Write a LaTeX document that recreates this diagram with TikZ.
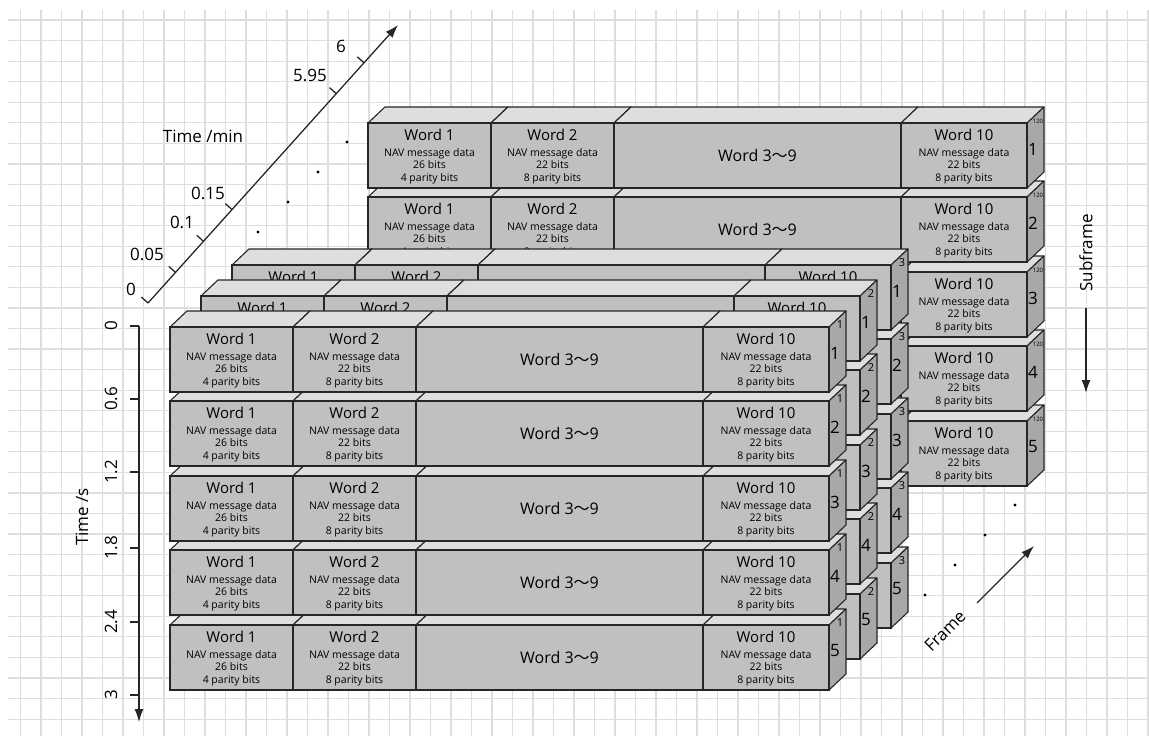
\documentclass[tikz,border=0pt]{standalone}
\usepackage{fontspec}
\setmainfont{Open Sans}
\newfontfamily\cjkfont{Noto Sans CJK SC}
\usetikzlibrary{arrows.meta, calc}

\definecolor{topgray}{RGB}{222,222,222}
\definecolor{frontgray}{RGB}{192,192,192}
\definecolor{sidegray}{RGB}{168,168,168}
\definecolor{edgegray}{RGB}{38,38,38}

% one word of a subframe: name, x, width, title, three small lines,
% text shown (0 none, 1 title, 2 all)
\newcommand{\wordbox}[8]{%
  \draw [topface] (#2,0) -- ++(17,-16) -- ++(#3,0) -- ++(-17,16) -- cycle;
  \draw [sideface] (#2+#3,0) -- ++(17,-16) -- ++(0,65) -- ++(-17,16) -- cycle;
  \draw [frontface] (#2,0) rectangle ++(#3,65);
  \ifcase#8\relax
  \or
    \node [titletext] (#1) at (#2+0.5*#3,17.5) {#4};
  \or
    \node [titletext] (#1) at (#2+0.5*#3,17.5) {#4};
    \node [smalltext] (#1-a) at (#2+0.5*#3,33.5) {#5};
    \node [smalltext] (#1-b) at (#2+0.5*#3,45.5) {#6};
    \node [smalltext] (#1-c) at (#2+0.5*#3,58.5) {#7};
  \fi
}

% words 3 to 9 in one box: name, x, width, title, text shown (0/1)
\newcommand{\bigbox}[5]{%
  \draw [topface] (#2,0) -- ++(17,-16) -- ++(#3,0) -- ++(-17,16) -- cycle;
  \draw [frontface] (#2,0) rectangle ++(#3,65);
  \ifcase#5\relax
  \or
    \node [bigtext] (#1) at (#2+0.5*#3,32.5) {#4};
  \fi
}

% one subframe: name, x, y, frame number, subframe number,
% text shown for words 1 and 2, words 3-9, word 10
\newcommand{\subframerow}[8]{%
  \begin{scope}[shift={(#2,#3)}]
    \wordbox{#1-w1}{0}{123}{Word 1}{NAV message data}{26 bits}{4 parity bits}{#6}
    \wordbox{#1-w2}{123}{123}{Word 2}{NAV message data}{22 bits}{8 parity bits}{#6}
    \bigbox{#1-w39}{246}{287}{Word 3{\cjkfont ～}9}{#7}
    \wordbox{#1-w10}{533}{126}{Word 10}{NAV message data}{22 bits}{8 parity bits}{#8}
    \node [framenum] (#1-fr) at (670,-2) {#4};
    \node [subnum] (#1-sf) at (665,26) {#5};
  \end{scope}
}

\begin{document}
\begin{tikzpicture}[x=1pt, y=-1pt,
    gridline/.style={draw=black!13, line width=1.2pt},
    topface/.style={fill=topgray, draw=edgegray, line width=1.1pt, line join=round},
    sideface/.style={fill=sidegray, draw=edgegray, line width=1.1pt, line join=round},
    frontface/.style={fill=frontgray, draw=edgegray, line width=1.1pt},
    titletext/.style={anchor=base, inner sep=0, font=\fontsize{15}{18}\selectfont},
    smalltext/.style={anchor=base, inner sep=0, font=\fontsize{10.5}{12}\selectfont},
    bigtext/.style={inner sep=0, font=\fontsize{16}{18}\selectfont},
    framenum/.style={inner sep=0, font=\fontsize{11}{12}\selectfont},
    subnum/.style={inner sep=0, font=\fontsize{17}{18}\selectfont},
    axislabel/.style={inner sep=0, font=\fontsize{17}{20}\selectfont},
    seqdot/.style={fill=black}]

    \useasboundingbox (0,0) rectangle (1149,736);
    \fill [white] (0,0) rectangle (1149,736);

    % background grid
    \foreach \k in {1,...,56} \draw [gridline] (20.5*\k,10) -- (20.5*\k,736);
    \foreach \k in {1,...,35} \draw [gridline] (8,20.56*\k-0.5) -- (1149,20.56*\k-0.5);

    %%%%%%%%%%%%%%%%%%%%%%%%%%%%%%%%%%%%%%%%%%%%%%%%%%%%%%%%%%%%%%%%%%%%%

    % last frame
    \subframerow{fN-s5}{368}{421}{\fontsize{6}{6}\selectfont 120}{5}{0}{0}{2}
    \subframerow{fN-s4}{368}{346}{\fontsize{6}{6}\selectfont 120}{4}{0}{0}{2}
    \subframerow{fN-s3}{368}{272}{\fontsize{6}{6}\selectfont 120}{3}{0}{0}{2}
    \subframerow{fN-s2}{368}{197}{\fontsize{6}{6}\selectfont 120}{2}{2}{1}{2}
    \subframerow{fN-s1}{368}{123}{\fontsize{6}{6}\selectfont 120}{1}{2}{1}{2}

    \fill [seqdot] (258,232) circle [radius=1.6pt];
    \fill [seqdot] (288,202) circle [radius=1.6pt];
    \fill [seqdot] (318,172) circle [radius=1.6pt];
    \fill [seqdot] (347,142) circle [radius=1.6pt];
    \fill [seqdot] (925,595) circle [radius=1.6pt];
    \fill [seqdot] (955,565) circle [radius=1.6pt];
    \fill [seqdot] (985,535) circle [radius=1.6pt];
    \fill [seqdot] (1015,505) circle [radius=1.6pt];

    % frame 3
    \subframerow{f3-s5}{232}{563}{3}{5}{0}{0}{0}
    \subframerow{f3-s4}{232}{488}{3}{4}{0}{0}{0}
    \subframerow{f3-s3}{232}{414}{3}{3}{0}{0}{0}
    \subframerow{f3-s2}{232}{339}{3}{2}{0}{0}{0}
    \subframerow{f3-s1}{232}{265}{3}{1}{1}{0}{1}

    % frame 2
    \subframerow{f2-s5}{201}{594}{2}{5}{0}{0}{0}
    \subframerow{f2-s4}{201}{519}{2}{4}{0}{0}{0}
    \subframerow{f2-s3}{201}{445}{2}{3}{0}{0}{0}
    \subframerow{f2-s2}{201}{370}{2}{2}{0}{0}{0}
    \subframerow{f2-s1}{201}{296}{2}{1}{1}{0}{1}

    % frame 1
    \subframerow{f1-s5}{170}{625}{1}{5}{2}{1}{2}
    \subframerow{f1-s4}{170}{550}{1}{4}{2}{1}{2}
    \subframerow{f1-s3}{170}{476}{1}{3}{2}{1}{2}
    \subframerow{f1-s2}{170}{401}{1}{2}{2}{1}{2}
    \subframerow{f1-s1}{170}{327}{1}{1}{2}{1}{2}

    %%%%%%%%%%%%%%%%%%%%%%%%%%%%%%%%%%%%%%%%%%%%%%%%%%%%%%%%%%%%%%%%%%%%%

    % Time /min axis
    \coordinate (tmin-o) at (148,303);
    \coordinate (tmin-tip) at (398,25);
    \coordinate (tmin-t1) at ($(tmin-o)!0.110!(tmin-tip)$);
    \coordinate (tmin-t2) at ($(tmin-o)!0.222!(tmin-tip)$);
    \coordinate (tmin-t3) at ($(tmin-o)!0.336!(tmin-tip)$);
    \coordinate (tmin-t4) at ($(tmin-o)!0.753!(tmin-tip)$);
    \coordinate (tmin-t5) at ($(tmin-o)!0.864!(tmin-tip)$);
    \draw [-{Latex[length=13pt, width=9pt]}, line width = 0.45mm, edgegray] (tmin-o) -- (tmin-tip);
    \foreach \t in {o,t1,t2,t3,t4,t5}
        \draw [line width = 0.45mm, edgegray] (tmin-\t) -- ++(-6.7,-6);

    \node [axislabel] (tmin-l0) at (131,289) {0};
    \node [axislabel] (tmin-l1) at (147,254) {0.05};
    \node [axislabel] (tmin-l2) at (182,222) {0.1};
    \node [axislabel] (tmin-l3) at (208,193) {0.15};
    \node [axislabel] (tmin-l4) at (310,75) {5.95};
    \node [axislabel] (tmin-l5) at (341,46) {6};
    \node [axislabel] (tmin-name) at (203,136) {Time /min};

    % Time /s axis
    \coordinate (ts-o) at (139,326);
    \coordinate (ts-tip) at (139,722);
    \draw [-{Latex[length=13pt, width=9pt]}, line width = 0.45mm, edgegray] (ts-o) -- (ts-tip);
    \foreach \y/\v [count=\i] in {326/0, 399/0.6, 472/1.2, 548/1.8, 622/2.4, 695/3} {
        \coordinate (ts-t\i) at (139,\y);
        \draw [line width = 0.45mm, edgegray] (ts-t\i) -- ++(-9,0);
        \node [axislabel, rotate=90] (ts-l\i) at (111,\y) {\v};
    }
    \node [axislabel, rotate=90] (ts-name) at (82,517) {Time /s};

    % Subframe arrow
    \coordinate (sub-a) at (1086,308);
    \coordinate (sub-b) at (1086,393);
    \draw [-{Latex[length=13pt, width=9pt]}, line width = 0.45mm, edgegray] (sub-a) -- (sub-b);
    \node [axislabel, rotate=90] (sub-name) at (1086,253) {Subframe};

    % Frame arrow
    \coordinate (frm-a) at (977,603);
    \coordinate (frm-b) at (1034,546);
    \draw [-{Latex[length=13pt, width=9pt]}, line width = 0.45mm, edgegray] (frm-a) -- (frm-b);
    \node [axislabel, rotate=45] (frm-name) at (945,631) {Frame};

\end{tikzpicture}
\end{document}
